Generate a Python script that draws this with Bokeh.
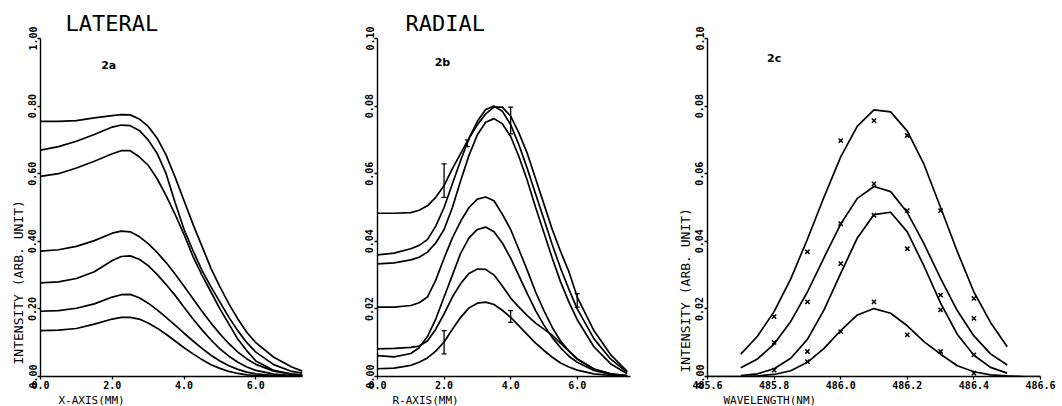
from bokeh.plotting import figure
from bokeh.layouts import row
from bokeh.models import (Range1d, FixedTicker, PrintfTickFormatter, Whisker, TeeHead,
                          ColumnDataSource, Title)
from bokeh.core.properties import value
from bokeh.embed import file_html
from bokeh.resources import INLINE

# ---------------- Panel 2a : LATERAL ----------------
xa = [0, 0.5, 1.0, 1.5, 2.0, 2.25, 2.5, 2.75, 3.0, 3.25, 3.5, 3.75, 4.0, 4.25,
      4.5, 4.75, 5.0, 5.25, 5.5, 5.75, 6.0, 6.5, 7.0, 7.3]
a1 = [0.755, 0.755, 0.757, 0.765, 0.772, 0.775, 0.774, 0.762, 0.740, 0.705, 0.655, 0.590,
      0.520, 0.450, 0.385, 0.320, 0.265, 0.215, 0.170, 0.130, 0.100, 0.057, 0.028, 0.016]
a2 = [0.670, 0.680, 0.696, 0.716, 0.738, 0.744, 0.742, 0.728, 0.700, 0.660, 0.600, 0.515,
      0.435, 0.372, 0.314, 0.265, 0.220, 0.175, 0.135, 0.100, 0.072, 0.035, 0.015, 0.010]
a3 = [0.592, 0.600, 0.617, 0.637, 0.659, 0.668, 0.668, 0.650, 0.625, 0.585, 0.535, 0.480,
      0.420, 0.355, 0.300, 0.250, 0.200, 0.155, 0.110, 0.076, 0.046, 0.018, 0.007, 0.004]
a4 = [0.371, 0.375, 0.385, 0.402, 0.424, 0.430, 0.428, 0.414, 0.393, 0.367, 0.337, 0.303,
      0.267, 0.230, 0.193, 0.158, 0.126, 0.097, 0.072, 0.052, 0.036, 0.016, 0.007, 0.004]
a5 = [0.277, 0.280, 0.290, 0.310, 0.343, 0.355, 0.357, 0.347, 0.328, 0.302, 0.272, 0.240,
      0.205, 0.170, 0.138, 0.108, 0.082, 0.060, 0.042, 0.028, 0.018, 0.007, 0.003, 0.002]
a6 = [0.193, 0.195, 0.202, 0.215, 0.235, 0.242, 0.243, 0.233, 0.217, 0.197, 0.175, 0.152,
      0.128, 0.105, 0.083, 0.063, 0.046, 0.032, 0.021, 0.013, 0.008, 0.003, 0.001, 0.000]
a7 = [0.136, 0.137, 0.142, 0.155, 0.170, 0.175, 0.175, 0.170, 0.158, 0.143, 0.125, 0.105,
      0.085, 0.067, 0.050, 0.035, 0.024, 0.015, 0.009, 0.005, 0.003, 0.001, 0.000, 0.000]
a_xticks = [0, 2, 4, 6]
a_yticks = [0.0, 0.2, 0.4, 0.6, 0.8, 1.0]

# ---------------- Panel 2b : RADIAL ----------------
xb = [0, 0.5, 1.0, 1.25, 1.5, 1.75, 2.0, 2.25, 2.5, 2.75, 3.0, 3.25, 3.5, 3.75, 4.0,
      4.25, 4.5, 4.75, 5.0, 5.25, 5.5, 5.75, 6.0, 6.5, 7.0, 7.5]
b1 = [0.0483, 0.0483, 0.0485, 0.0492, 0.0505, 0.0530, 0.0565, 0.0615, 0.0660, 0.0705,
      0.0745, 0.0777, 0.0797, 0.0797, 0.0770, 0.0720, 0.0660, 0.0585, 0.0510, 0.0435,
      0.0370, 0.0310, 0.0235, 0.0136, 0.0065, 0.0015]
b2 = [0.0360, 0.0365, 0.0378, 0.0388, 0.0405, 0.0445, 0.0500, 0.0570, 0.0640, 0.0705,
      0.0755, 0.0790, 0.0800, 0.0785, 0.0745, 0.0685, 0.0615, 0.0540, 0.0465, 0.0390,
      0.0320, 0.0258, 0.0200, 0.0112, 0.0052, 0.0012]
b3 = [0.0333, 0.0336, 0.0345, 0.0353, 0.0368, 0.0395, 0.0435, 0.0500, 0.0580, 0.0655,
      0.0715, 0.0752, 0.0763, 0.0748, 0.0710, 0.0650, 0.0580, 0.0500, 0.0425, 0.0350,
      0.0280, 0.0220, 0.0168, 0.0088, 0.0038, 0.0008]
b4 = [0.0205, 0.0205, 0.0210, 0.0218, 0.0235, 0.0285, 0.0350, 0.0410, 0.0460, 0.0500,
      0.0525, 0.0531, 0.0520, 0.0480, 0.0435, 0.0375, 0.0314, 0.0250, 0.0195, 0.0145,
      0.0105, 0.0075, 0.0052, 0.0022, 0.0008, 0.0002]
b5 = [0.0062, 0.0058, 0.0068, 0.0085, 0.0118, 0.0170, 0.0235, 0.0300, 0.0365, 0.0410,
      0.0435, 0.0442, 0.0428, 0.0395, 0.0350, 0.0298, 0.0245, 0.0195, 0.0152, 0.0115,
      0.0085, 0.0060, 0.0042, 0.0018, 0.0006, 0.0002]
b6 = [0.0082, 0.0083, 0.0086, 0.0090, 0.0105, 0.0140, 0.0185, 0.0235, 0.0275, 0.0305,
      0.0318, 0.0317, 0.0300, 0.0268, 0.0232, 0.0205, 0.0180, 0.0158, 0.0140, 0.0122,
      0.0098, 0.0075, 0.0052, 0.0022, 0.0008, 0.0003]
b7 = [0.0023, 0.0025, 0.0033, 0.0042, 0.0055, 0.0075, 0.0102, 0.0140, 0.0175, 0.0203,
      0.0217, 0.0220, 0.0213, 0.0196, 0.0175, 0.0150, 0.0124, 0.0099, 0.0077, 0.0057,
      0.0040, 0.0028, 0.0019, 0.0008, 0.0003, 0.0001]
err_x = [2.0, 2.7, 4.0, 6.0, 2.0, 4.0]
err_lo = [0.0530, 0.0680, 0.0718, 0.0205, 0.0067, 0.0160]
err_hi = [0.0629, 0.0700, 0.0797, 0.0245, 0.0136, 0.0195]
b_xticks = [0, 2, 4, 6]
b_yticks = [0.0, 0.02, 0.04, 0.06, 0.08, 0.10]

# ---------------- Panel 2c : wavelength profiles ----------------
xc = [485.70, 485.75, 485.80, 485.85, 485.90, 485.95, 486.00, 486.05, 486.10, 486.15,
      486.20, 486.25, 486.30, 486.35, 486.40, 486.45, 486.50]
c1 = [0.0066, 0.0119, 0.0192, 0.0289, 0.0406, 0.0531, 0.0650, 0.0741, 0.0789, 0.0783,
      0.0726, 0.0628, 0.0500, 0.0370, 0.0250, 0.0160, 0.0088]
c2 = [0.0026, 0.0052, 0.0096, 0.0163, 0.0250, 0.0352, 0.0451, 0.0527, 0.0562, 0.0547,
      0.0485, 0.0393, 0.0290, 0.0195, 0.0120, 0.0067, 0.0034]
c3 = [0.0003, 0.0008, 0.0023, 0.0054, 0.0110, 0.0197, 0.0305, 0.0410, 0.0479, 0.0486,
      0.0428, 0.0327, 0.0217, 0.0125, 0.0063, 0.0027, 0.0010]
xc4 = [485.60, 485.65, 485.70, 485.75, 485.80, 485.85, 485.90, 485.95, 486.00, 486.05,
       486.10, 486.15, 486.20, 486.25, 486.30, 486.35, 486.40, 486.45, 486.50, 486.55, 486.60]
c4 = [0.0, 0.0, 0.0, 0.0002, 0.0006, 0.0017, 0.0042, 0.0083, 0.0136, 0.0182, 0.0201,
      0.0187, 0.0150, 0.0103, 0.0066, 0.0032, 0.0014, 0.0005, 0.0002, 0.0, 0.0]
pts_x = [485.8, 485.9, 486.0, 486.1, 486.2, 486.3, 486.4]
p1 = [0.0177, 0.0369, 0.0698, 0.0757, 0.0713, 0.0491, 0.0231]
p2 = [0.0101, 0.0221, 0.0452, 0.0570, 0.0491, 0.0241, 0.0172]
p3 = [0.0019, 0.0074, 0.0334, 0.0477, 0.0378, 0.0197, 0.0064]
pts4_x = [485.9, 486.0, 486.1, 486.2, 486.3, 486.4]
p4 = [0.0044, 0.0133, 0.0221, 0.0123, 0.0074, 0.0010]
c_xticks = [485.6, 485.8, 486.0, 486.2, 486.4, 486.6]
c_yticks = [0.0, 0.02, 0.04, 0.06, 0.08, 0.10]

MONO = "DejaVu Sans Mono"
H = 406


def make_fig(width, xr, yr, bl, br, xticks, yticks, xfmt, yfmt, title, toff):
    p = figure(width=width, height=H, x_range=Range1d(*xr), y_range=Range1d(*yr),
               output_backend="svg", toolbar_location=None, title=title,
               min_border_left=bl, min_border_right=br, min_border_top=38,
               min_border_bottom=30)
    p.grid.visible = False
    p.outline_line_color = None
    p.background_fill_color = "white"
    p.border_fill_color = "white"
    if title:
        p.title.text_font = MONO
        p.title.text_font_size = "22px"
        p.title.text_font_style = "normal"
        p.title.text_color = "black"
        p.title.offset = toff
        p.title.standoff = 5
    for ax in (p.xaxis[0], p.yaxis[0]):
        ax.axis_line_color = "black"
        ax.axis_line_width = 1.4
        ax.major_tick_line_color = "black"
        ax.major_tick_line_width = 1.3
        ax.major_tick_out = 3
        ax.major_tick_in = 0
        ax.minor_tick_line_color = None
        ax.major_label_text_font = MONO
        ax.major_label_text_font_size = "10px"
        ax.major_label_text_font_style = "bold"
        ax.major_label_text_color = "black"
        ax.major_label_standoff = 1
    p.xaxis[0].ticker = FixedTicker(ticks=xticks)
    p.yaxis[0].ticker = FixedTicker(ticks=yticks)
    p.xaxis[0].formatter = PrintfTickFormatter(format=xfmt)
    p.yaxis[0].formatter = PrintfTickFormatter(format=yfmt)
    p.yaxis[0].major_label_orientation = "vertical"
    return p


def side_label(p, text, side, size, offset):
    p.add_layout(Title(text=text, align="left", offset=offset, standoff=0,
                       text_font=MONO, text_font_size=size, text_font_style="normal",
                       text_color="black"), side)


LW = 1.7

pa = make_fig(345, (0, 7.3), (0, 1.0), 40, 43, a_xticks, a_yticks, "%.1f", "%.2f",
              "LATERAL", 25)
for ys in (a1, a2, a3, a4, a5, a6, a7):
    pa.line(xa, ys, line_color="black", line_width=LW)
pa.text(x=[1.9], y=[0.92], text=["2a"], text_font=value("DejaVu Sans"),
        text_font_size="11px", text_font_style="bold", text_align="center",
        text_baseline="middle", text_color="black")
side_label(pa, "X-AXIS(MM)", "below", "11px", 18)
side_label(pa, "INTENSITY (ARB. UNIT)", "left", "13px", 12)

pb = make_fig(330, (0, 7.6), (0, 0.1), 32, 45, b_xticks, b_yticks, "%.1f", "%.2f",
              "RADIAL", 28)
for ys in (b1, b2, b3, b4, b5, b6, b7):
    pb.line(xb, ys, line_color="black", line_width=LW)
esrc = ColumnDataSource(dict(x=err_x, lo=err_lo, hi=err_hi))
pb.add_layout(Whisker(source=esrc, base="x", lower="lo", upper="hi", dimension="height",
                      line_color="black", line_width=1.3,
                      upper_head=TeeHead(size=5, line_color="black", line_width=1.3),
                      lower_head=TeeHead(size=5, line_color="black", line_width=1.3)))
pb.text(x=[1.95], y=[0.093], text=["2b"], text_font=value("DejaVu Sans"),
        text_font_size="11px", text_font_style="bold", text_align="center",
        text_baseline="middle", text_color="black")
side_label(pb, "R-AXIS(MM)", "below", "11px", 15)

pc = make_fig(385, (485.6, 486.6), (0, 0.1), 32, 20, c_xticks, c_yticks, "%.1f", "%.2f",
              None, 0)
for ys in (c1, c2, c3):
    pc.line(xc, ys, line_color="black", line_width=LW)
pc.line(xc4, c4, line_color="black", line_width=LW)
for ys in (p1, p2, p3):
    pc.scatter(pts_x, ys, marker="x", size=6, line_color="black", line_width=1.5)
pc.scatter(pts4_x, p4, marker="x", size=6, line_color="black", line_width=1.5)
pc.text(x=[485.8], y=[0.094], text=["2c"], text_font=value("DejaVu Sans"),
        text_font_size="11px", text_font_style="bold", text_align="center",
        text_baseline="middle", text_color="black")
side_label(pc, "WAVELENGTH(NM)", "below", "11px", 16)
side_label(pc, "INTENSITY (ARB. UNIT)", "left", "13px", 4)

layout = row(pa, pb, pc)
open("out.html", "w").write(file_html(layout, INLINE))
